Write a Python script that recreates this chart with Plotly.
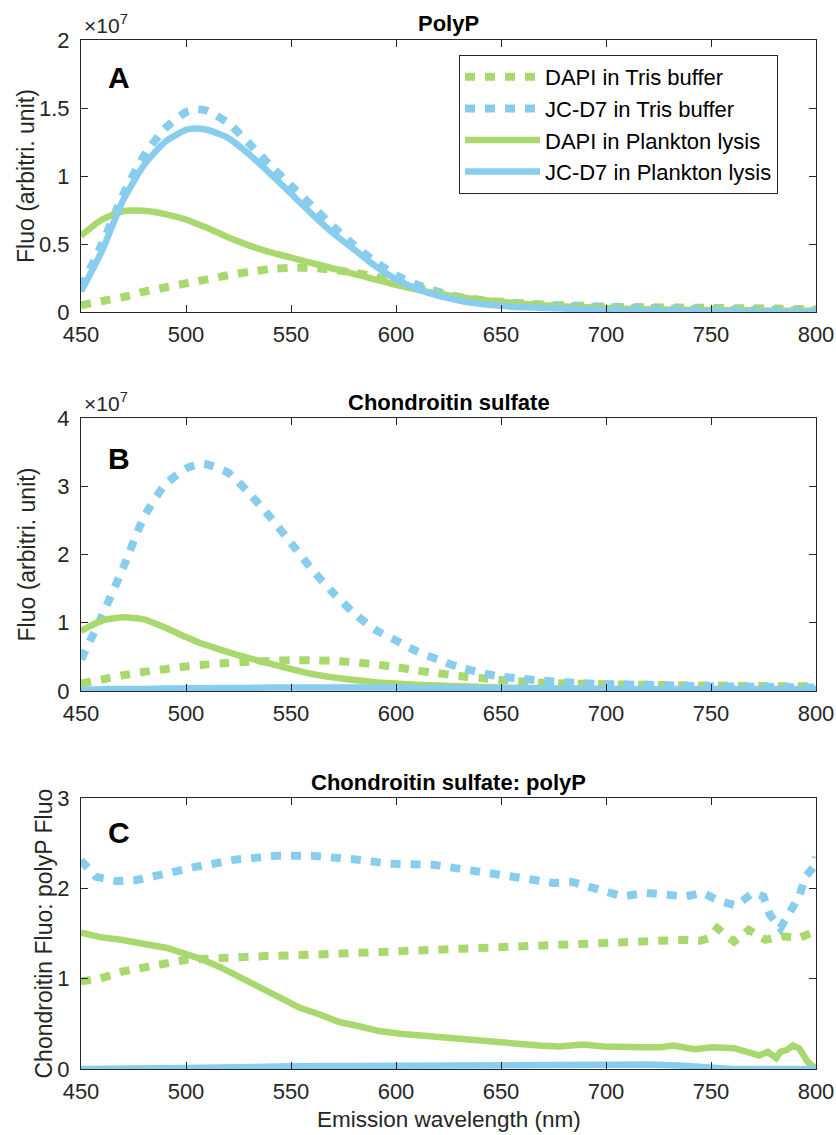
import plotly.graph_objects as go

# ---------------- data (fluorescence values in units of 1e7) ----------------
wl_A = [450, 460, 470, 480, 490, 500, 505, 510, 520, 530, 540, 550, 560, 570, 580,
        590, 600, 610, 620, 630, 640, 650, 660, 670, 680, 700, 720, 750, 780, 800]
A_dapi_tris = [0.05, 0.08, 0.11, 0.15, 0.18, 0.21, 0.225, 0.24, 0.27, 0.295, 0.315, 0.325, 0.325, 0.31, 0.29,
               0.26, 0.22, 0.18, 0.14, 0.11, 0.09, 0.075, 0.065, 0.055, 0.05, 0.04, 0.035, 0.03, 0.025, 0.02]
A_jcd7_tris = [0.18, 0.5, 0.86, 1.15, 1.35, 1.47, 1.49, 1.48, 1.39, 1.24, 1.08, 0.93, 0.78, 0.63, 0.49,
               0.37, 0.27, 0.2, 0.15, 0.11, 0.085, 0.07, 0.06, 0.05, 0.045, 0.035, 0.03, 0.02, 0.015, 0.01]
A_dapi_plank = [0.56, 0.68, 0.74, 0.745, 0.72, 0.68, 0.65, 0.62, 0.55, 0.49, 0.44, 0.40, 0.36, 0.32, 0.28,
                0.24, 0.2, 0.165, 0.135, 0.11, 0.09, 0.075, 0.06, 0.05, 0.04, 0.03, 0.02, 0.015, 0.01, 0.01]
A_jcd7_plank = [0.15, 0.45, 0.82, 1.08, 1.25, 1.34, 1.35, 1.34, 1.28, 1.16, 1.02, 0.87, 0.72, 0.58, 0.46,
                0.34, 0.24, 0.17, 0.12, 0.085, 0.06, 0.045, 0.035, 0.03, 0.025, 0.015, 0.01, 0.005, 0.0, 0.0]

wl_B = [450, 460, 470, 480, 490, 500, 507, 510, 520, 530, 540, 550, 560, 570, 580,
        590, 600, 610, 620, 630, 640, 650, 660, 670, 680, 700, 720, 750, 780, 800]
B_dapi_tris = [0.11, 0.17, 0.23, 0.28, 0.32, 0.36, 0.38, 0.39, 0.41, 0.43, 0.44, 0.45, 0.45, 0.44, 0.42,
               0.39, 0.35, 0.3, 0.26, 0.22, 0.19, 0.16, 0.14, 0.12, 0.11, 0.1, 0.09, 0.08, 0.07, 0.07]
B_jcd7_tris = [0.46, 1.1, 1.8, 2.55, 3.02, 3.26, 3.33, 3.32, 3.2, 2.9, 2.55, 2.17, 1.78, 1.44, 1.14,
               0.9, 0.74, 0.58, 0.46, 0.35, 0.27, 0.21, 0.18, 0.15, 0.13, 0.1, 0.09, 0.07, 0.06, 0.05]
B_dapi_plank = [0.88, 1.03, 1.08, 1.05, 0.93, 0.79, 0.7, 0.67, 0.57, 0.48, 0.4, 0.32, 0.25, 0.2, 0.16,
                0.13, 0.11, 0.09, 0.08, 0.07, 0.06, 0.05, 0.045, 0.04, 0.035, 0.03, 0.025, 0.02, 0.02, 0.02]
B_jcd7_plank = [0.02, 0.025, 0.03, 0.03, 0.035, 0.04, 0.04, 0.04, 0.045, 0.045, 0.05, 0.05, 0.05, 0.05, 0.05,
                0.05, 0.05, 0.045, 0.045, 0.045, 0.04, 0.04, 0.04, 0.035, 0.035, 0.03, 0.03, 0.03, 0.03, 0.03]

# Panel C: ratio chondroitin / polyP
wl_C_jcd7_tris = [450, 457, 467, 476, 486, 496, 505, 515, 524, 534, 543, 560, 570, 581, 591, 600, 618, 627,
                  637, 646, 656, 665, 675, 684, 692, 700, 708, 719, 729, 738, 746, 754, 762, 770, 775,
                  778, 783, 788, 792, 795, 799, 800]
C_jcd7_tris = [2.31, 2.13, 2.08, 2.09, 2.14, 2.2, 2.24, 2.28, 2.32, 2.34, 2.36, 2.36, 2.35, 2.32, 2.29, 2.27,
               2.26, 2.23, 2.2, 2.17, 2.13, 2.09, 2.06, 2.07, 2.02, 1.98, 1.91, 1.95, 1.93, 1.91, 1.95,
               1.86, 1.81, 1.95, 1.91, 1.71, 1.56, 1.76, 1.91, 2.13, 2.24, 2.35]
wl_C_dapi_tris = [450, 459, 470, 481, 491, 500, 510, 519, 528, 538, 547, 557, 566, 576, 586, 595, 605, 613,
                  622, 632, 642, 651, 661, 670, 680, 689, 699, 708, 718, 727, 737, 745, 749, 753, 758,
                  761, 768, 776, 784, 792, 800]
C_dapi_tris = [0.97, 1.0, 1.08, 1.13, 1.19, 1.21, 1.22, 1.24, 1.24, 1.25, 1.25, 1.26, 1.27, 1.28, 1.29, 1.3,
               1.3, 1.32, 1.33, 1.34, 1.35, 1.36, 1.36, 1.38, 1.39, 1.39, 1.41, 1.42, 1.42, 1.43, 1.43,
               1.42, 1.45, 1.56, 1.48, 1.41, 1.54, 1.43, 1.47, 1.45, 1.53]
wl_C_dapi_plank = [450, 459, 469, 481, 491, 499, 507, 516, 526, 535, 545, 554, 564, 573, 583, 592, 602, 611,
                   621, 630, 640, 650, 659, 668, 678, 689, 699, 708, 718, 726, 732, 742, 751, 761, 768,
                   773, 777, 781, 783, 786, 789, 792, 796, 799, 800]
C_dapi_plank = [1.51, 1.46, 1.43, 1.39, 1.34, 1.28, 1.22, 1.13, 1.01, 0.89, 0.78, 0.68, 0.6, 0.52, 0.47, 0.42,
                0.39, 0.37, 0.36, 0.34, 0.31, 0.29, 0.27, 0.26, 0.25, 0.27, 0.25, 0.24, 0.24, 0.24, 0.26,
                0.22, 0.24, 0.23, 0.19, 0.15, 0.19, 0.12, 0.19, 0.21, 0.26, 0.23, 0.08, 0.0, 0.0]
wl_C_jcd7_plank = [450, 480, 500, 550, 600, 650, 700, 710, 720, 735, 745, 750, 760, 800]
C_jcd7_plank = [0.0, 0.0, 0.01, 0.03, 0.04, 0.05, 0.06, 0.06, 0.05, 0.04, 0.02, 0.01, 0.0, 0.0]

names = ["DAPI in Tris buffer", "JC-D7 in Tris buffer", "DAPI in Plankton lysis", "JC-D7 in Plankton lysis"]
panel_titles = ["PolyP", "Chondroitin sulfate", "Chondroitin sulfate: polyP"]
panel_letters = ["A", "B", "C"]
x_ticks = [450, 500, 550, 600, 650, 700, 750, 800]
yA_ticks = [0, 0.5, 1, 1.5, 2]
yB_ticks = [0, 1, 2, 3, 4]
yC_ticks = [0, 1, 2, 3]

# ---------------- style ----------------
GREEN = "#A9D86E"
BLUE = "#88CDEE"
AX = "#262626"
FONT = "Liberation Sans, Arial, Helvetica, sans-serif"
W, H = 836, 1135
LW_SOLID = 6.5
LW_DOT = 8
DOT = "10px,10px"

def px(x):
    return x / W

def py(y):
    return 1 - y / H

fig = go.Figure()

def add(x, y, color, dash, name, xa, ya, show, shape="spline"):
    fig.add_trace(go.Scatter(
        x=x, y=y, mode="lines", name=name, showlegend=show,
        line=dict(color=color, width=LW_SOLID if dash == "solid" else LW_DOT, dash=dash, shape=shape,
                  smoothing=0.6 if shape == "spline" else None),
        xaxis=xa, yaxis=ya, hoverinfo="x+y"))

# panel A
add(wl_A, A_dapi_tris, GREEN, DOT, names[0], "x", "y", True)
add(wl_A, A_jcd7_tris, BLUE, DOT, names[1], "x", "y", True)
add(wl_A, A_dapi_plank, GREEN, "solid", names[2], "x", "y", True)
add(wl_A, A_jcd7_plank, BLUE, "solid", names[3], "x", "y", True)
# panel B
add(wl_B, B_dapi_tris, GREEN, DOT, names[0], "x2", "y2", False)
add(wl_B, B_jcd7_tris, BLUE, DOT, names[1], "x2", "y2", False)
add(wl_B, B_dapi_plank, GREEN, "solid", names[2], "x2", "y2", False)
add(wl_B, B_jcd7_plank, BLUE, "solid", names[3], "x2", "y2", False)
# panel C
add(wl_C_dapi_tris, C_dapi_tris, GREEN, DOT, names[0], "x3", "y3", False, "linear")
add(wl_C_jcd7_tris, C_jcd7_tris, BLUE, DOT, names[1], "x3", "y3", False, "linear")
add(wl_C_dapi_plank, C_dapi_plank, GREEN, "solid", names[2], "x3", "y3", False, "linear")
add(wl_C_jcd7_plank, C_jcd7_plank, BLUE, "solid", names[3], "x3", "y3", False, "linear")

# plot-area pixel boxes (top, bottom)
boxes = [(40, 312), (418, 691), (798, 1069)]
XL, XR = 81, 816

common_axis = dict(showline=True, linecolor=AX, linewidth=1, mirror="ticks", ticks="inside",
                   ticklen=7, tickwidth=1, tickcolor=AX, showgrid=False, zeroline=False,
                   automargin=False,
                   tickfont=dict(family=FONT, size=22, color=AX))

layout_axes = {}
yticksets = [yA_ticks, yB_ticks, yC_ticks]
for i, (top, bot) in enumerate(boxes):
    sfx = "" if i == 0 else str(i + 1)
    layout_axes["xaxis" + sfx] = dict(common_axis, domain=[px(XL), px(XR)], range=[450, 800],
                                      tickvals=x_ticks, ticktext=[str(v) for v in x_ticks],
                                      anchor="y" + sfx, ticklabelstandoff=3)
    yt = yticksets[i]
    layout_axes["yaxis" + sfx] = dict(common_axis, domain=[py(bot), py(top)], range=[yt[0], yt[-1]],
                                      tickvals=yt, ticktext=[("%g" % v) for v in yt],
                                      anchor="x" + sfx, ticklabelstandoff=6)

annotations = []
letter_y = [77, 458, 832]
for i, (top, bot) in enumerate(boxes):
    annotations.append(dict(text="<b>%s</b>" % panel_titles[i], x=px((XL + XR) / 2), y=py(top - 16),
                            xref="paper", yref="paper", showarrow=False, xanchor="center", yanchor="middle",
                            font=dict(family=FONT, size=22, color="#000000")))
    annotations.append(dict(text="<b>%s</b>" % panel_letters[i], x=px(119), y=py(letter_y[i]),
                            xref="paper", yref="paper", showarrow=False, xanchor="center", yanchor="middle",
                            font=dict(family=FONT, size=30, color="#000000")))
# x10^7 exponent labels
for i in range(2):
    top = boxes[i][0]
    annotations.append(dict(text="×10<sup>7</sup>", x=px(82), y=py(top - 1),
                            xref="paper", yref="paper", showarrow=False, xanchor="left", yanchor="bottom",
                            font=dict(family=FONT, size=21, color=AX)))
# y-axis titles
ytitles = ["Fluo (arbitri. unit)", "Fluo (arbitri. unit)", "Chondroitin Fluo: polyP Fluo"]
ytitle_x = [26, 26, 43]
for i, (top, bot) in enumerate(boxes):
    annotations.append(dict(text=ytitles[i], x=px(ytitle_x[i]), y=py((top + bot) / 2),
                            xref="paper", yref="paper", showarrow=False, xanchor="center", yanchor="middle",
                            textangle=-90, font=dict(family=FONT, size=23, color=AX)))
annotations.append(dict(text="Emission wavelength (nm)", x=px((XL + XR) / 2), y=py(1119),
                        xref="paper", yref="paper", showarrow=False, xanchor="center", yanchor="middle",
                        font=dict(family=FONT, size=22.5, color=AX)))

fig.update_layout(
    width=W, height=H, margin=dict(l=0, r=0, t=0, b=0, autoexpand=False),
    paper_bgcolor="white", plot_bgcolor="white",
    font=dict(family=FONT, size=21, color=AX),
    showlegend=True,
    legend=dict(x=px(459), y=py(55), xanchor="left", yanchor="top",
                bordercolor=AX, borderwidth=1, bgcolor="white",
                font=dict(family=FONT, size=22, color="#000000"),
                itemwidth=75, tracegroupgap=0),
    annotations=annotations,
    **layout_axes)

fig.write_html("out.html")
